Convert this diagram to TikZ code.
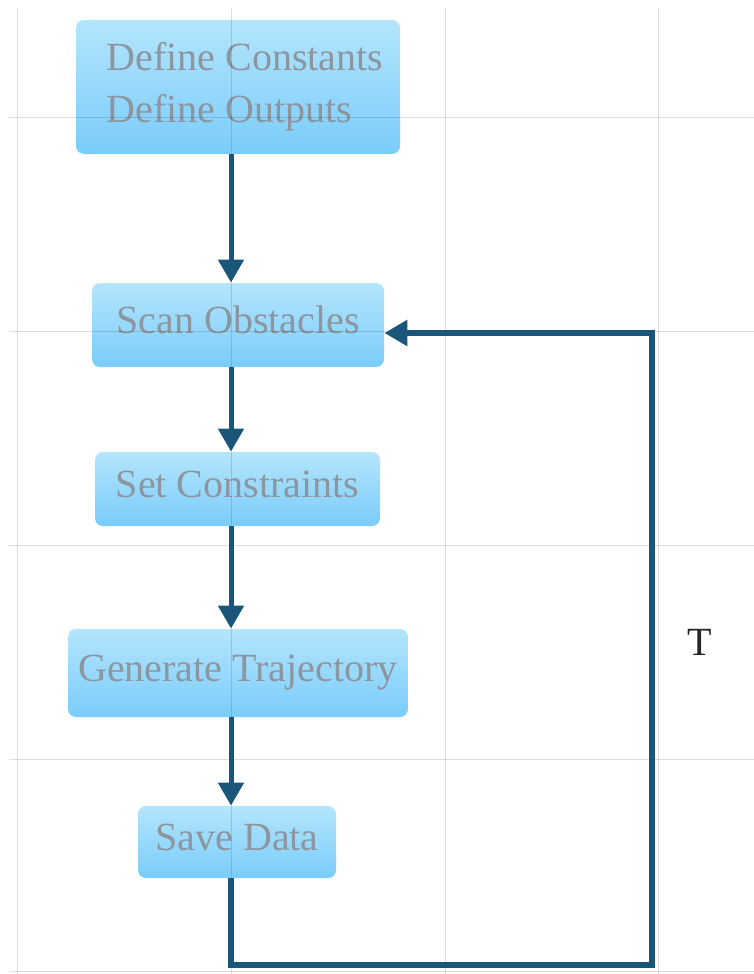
\documentclass[tikz,border=0pt]{standalone}
\usepackage{fontspec}
\setmainfont{Liberation Serif}
\usetikzlibrary{arrows.meta}

\definecolor{flowblue}{RGB}{26,86,122}
\definecolor{boxtop}{RGB}{180,229,252}
\definecolor{boxbottom}{RGB}{122,204,250}
\definecolor{boxtext}{RGB}{140,150,160}

\tikzset{
  stepbox/.style={rounded corners=4pt,top color=boxtop,bottom color=boxbottom,
    draw=none,inner sep=0pt,text=boxtext,font=\fontsize{20}{26}\selectfont},
  oneline/.style={stepbox,text height=14pt,text depth=6pt},
  flow/.style={-{Triangle[width=12.5pt,length=11.5pt]},color=flowblue,line width=2.5pt},
  loopback/.style={flow,line width=2.8pt,line join=miter}
}

\begin{document}
\begin{tikzpicture}[x=0.5pt,y=-0.5pt]
\useasboundingbox (0,0) rectangle (754,974);

% process boxes
\node[stepbox,minimum width=162pt,minimum height=67pt,align=left] (consts) at (238,87)
  {\hspace*{7pt}Define Constants\\\hspace*{7pt}Define Outputs};
\node[oneline,minimum width=146pt,minimum height=42pt] (scan) at (238,325) {Scan Obstacles};
\node[oneline,minimum width=142.5pt,minimum height=37pt] (constr) at (237.5,489) {Set Constraints};
\node[oneline,minimum width=170pt,minimum height=44pt] (traj) at (238,673) {Generate Trajectory};
\node[oneline,minimum width=99pt,minimum height=36pt] (save) at (237,842) {Save Data};

% background grid, faint, over the boxes
\foreach \gx in {17,231,445,658}
  \draw[black,opacity=0.13,line width=0.5pt] (\gx,8) -- (\gx,974);
\foreach \gy in {118,331,545,759,971}
  \draw[black,opacity=0.13,line width=0.5pt] (9,\gy) -- (754,\gy);

\coordinate (spine) at (231,0);
\coordinate (loopbl) at (231,965);
\coordinate (looptr) at (652,333);

% main flow
\draw[flow] (consts.south -| spine) -- (scan.north -| spine);
\draw[flow] (scan.south -| spine) -- (constr.north -| spine);
\draw[flow] (constr.south -| spine) -- (traj.north -| spine);
\draw[flow] (traj.south -| spine) -- (save.north -| spine);

% feedback loop
\draw[loopback] (save.south -| spine) -- (loopbl) -| (looptr) -- (scan.east |- looptr);
\node[font=\fontsize{20}{24}\selectfont,text=black!85] (tlabel) at (700,642) {T};

\end{tikzpicture}
\end{document}
